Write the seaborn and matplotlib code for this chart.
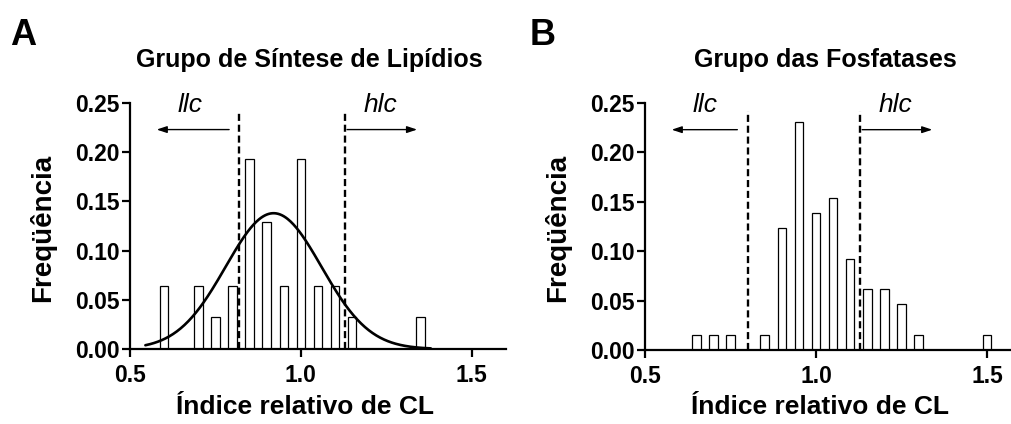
import numpy as np
import pandas as pd
import matplotlib
matplotlib.use("Agg")
import matplotlib.pyplot as plt
import seaborn as sns

# ---------------- data ----------------
a_centers = [0.60, 0.70, 0.75, 0.80, 0.85, 0.90, 0.95, 1.00, 1.05, 1.10, 1.15, 1.35]
a_freq = [0.0645, 0.0645, 0.0323, 0.0645, 0.1935, 0.1290, 0.0645, 0.1935, 0.0645, 0.0645, 0.0323, 0.0323]

b_centers = [0.65, 0.70, 0.75, 0.85, 0.90, 0.95, 1.00, 1.05, 1.10, 1.15, 1.20, 1.25, 1.30, 1.50]
b_freq = [0.0154, 0.0154, 0.0154, 0.0154, 0.1231, 0.2308, 0.1385, 0.1538, 0.0923, 0.0615, 0.0615, 0.0462, 0.0154, 0.0154]

# Gaussian fit parameters for panel A (amplitude, mean, sd, x range)
a_fit_amp, a_fit_mean, a_fit_sd = 0.138, 0.92, 0.14
a_fit_range = (0.545, 1.38)

a_cut = [0.82, 1.13]
b_cut = [0.80, 1.13]

titles = ["Grupo de Síntese de Lipídios", "Grupo das Fosfatases"]
panel_letters = ["A", "B"]
xlabel = "Índice relativo de CL"
ylabel = "Freqüência"
xticks = [0.5, 1.0, 1.5]
xtick_labels = ["0.5", "1.0", "1.5"]
yticks = [0.00, 0.05, 0.10, 0.15, 0.20, 0.25]
ytick_labels = ["0.00", "0.05", "0.10", "0.15", "0.20", "0.25"]

# ---------------- style ----------------
sns.set_style("ticks")
plt.rcParams["font.family"] = ["Liberation Sans", "DejaVu Sans"]
for k in ["text.color", "axes.labelcolor", "xtick.color", "ytick.color", "axes.edgecolor"]:
    plt.rcParams[k] = "black"

W, H = 1012, 424
fig = plt.figure(figsize=(W / 100, H / 100), dpi=100)

axA = fig.add_axes([130 / W, (H - 349) / H, 376 / W, 246 / H])
axB = fig.add_axes([645 / W, (H - 350) / H, 367 / W, 247 / H])


def draw_panel(ax, centers, freq, cuts, xmax):
    df = pd.DataFrame({"x": centers, "f": freq})
    sns.barplot(data=df, x="x", y="f", native_scale=True, width=0.5,
                color="white", saturation=1, edgecolor="black", linewidth=0.9,
                errorbar=None, ax=ax, zorder=2)
    ax.set_xlim(0.5, xmax)
    ax.set_ylim(0, 0.25)
    for s in ["top", "right"]:
        ax.spines[s].set_visible(False)
    for s in ["left", "bottom"]:
        ax.spines[s].set_linewidth(1.6)
    ax.set_xticks(xticks)
    ax.set_xticklabels(xtick_labels, fontsize=16.5, fontweight="bold")
    ax.set_yticks(yticks)
    ax.set_yticklabels(ytick_labels, fontsize=16.5, fontweight="bold")
    ax.tick_params(direction="out", length=6, width=1.6)
    ax.tick_params(axis="x", pad=5)
    ax.tick_params(axis="y", pad=1.5)
    ax.set_xlabel("")
    ax.set_ylabel("")
    for c in cuts:
        ax.plot([c, c], [0, 0.242], color="black", lw=1.7,
                linestyle=(0, (3, 1.6)), zorder=3, clip_on=False)
    # arrows
    y_arr = 0.223
    ax.annotate("", xy=(0.578, y_arr), xytext=(cuts[0] - 0.03, y_arr),
                arrowprops=dict(arrowstyle="-|>,head_length=0.6,head_width=0.2",
                                lw=1.0, color="black", shrinkA=0, shrinkB=0),
                annotation_clip=False)
    ax.annotate("", xy=(1.34, y_arr), xytext=(cuts[1] + 0.005, y_arr),
                arrowprops=dict(arrowstyle="-|>,head_length=0.6,head_width=0.2",
                                lw=1.0, color="black", shrinkA=0, shrinkB=0),
                annotation_clip=False)
    ax.text(0.675, 0.248, "llc", fontsize=19, style="italic",
            ha="center", va="center", clip_on=False)
    ax.text(1.232, 0.248, "hlc", fontsize=19, style="italic",
            ha="center", va="center", clip_on=False)


draw_panel(axA, a_centers, a_freq, a_cut, 1.60)
draw_panel(axB, b_centers, b_freq, b_cut, 0.5 + 367 / 342)

# Gaussian fit curve on panel A
xf = np.linspace(a_fit_range[0], a_fit_range[1], 300)
yf = a_fit_amp * np.exp(-((xf - a_fit_mean) ** 2) / (2 * a_fit_sd ** 2))
sns.lineplot(x=xf, y=yf, ax=axA, color="black", lw=1.9, zorder=4, clip_on=False)

# titles, labels, letters
for px_center, title in zip([309, 825], titles):
    fig.text(px_center / W, 1 - 60 / H, title, fontsize=18, fontweight="bold",
             ha="center", va="center")
for px, letter in zip([10, 530], panel_letters):
    fig.text(px / W, 1 - 45 / H, letter, fontsize=26, fontweight="bold",
             ha="left", va="baseline")
for px in [43, 558]:
    fig.text(px / W, 1 - 228 / H, ylabel, fontsize=20, fontweight="bold",
             rotation=90, ha="center", va="center")
for px in [305, 820]:
    fig.text(px / W, 1 - 407 / H, xlabel, fontsize=19, fontweight="bold",
             ha="center", va="center")

fig.savefig("out.png", dpi=100, facecolor="white")
